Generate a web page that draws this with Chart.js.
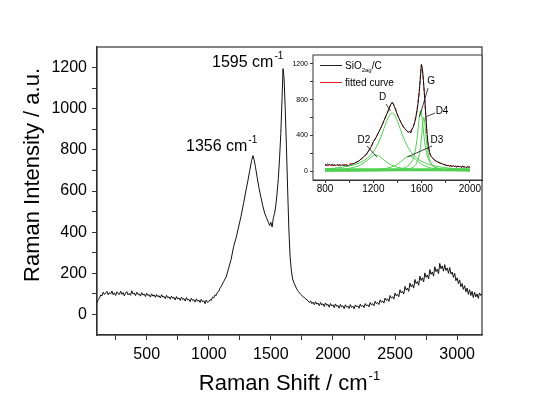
<!DOCTYPE html>
<html><head><meta charset="utf-8">
<script src="https://cdn.jsdelivr.net/npm/chart.js@4.4.1/dist/chart.umd.min.js"></script>
<style>
html,body{margin:0;padding:0;background:#fff;}
#wrap{position:relative;width:558px;height:396px;overflow:hidden;}
#main{position:absolute;left:0;top:0;}
#inset{position:absolute;left:280px;top:48px;}
</style></head><body>
<div id="wrap"><canvas id="main" width="558" height="396"></canvas><canvas id="inset" width="204" height="150"></canvas></div>
<script>
// ---- main spectrum (Raman shift, cm-1 / intensity, a.u.) ----
const shift = [100,110,120,130,140,150,160,170,180,190,200,210,220,230,240,250,260,270,280,290,300,310,320,330,340,350,360,370,380,390,400,410,420,430,440,450,460,470,480,490,500,510,520,530,540,550,560,570,580,590,600,610,620,630,640,650,660,670,680,690,700,710,720,730,740,750,760,770,780,790,800,810,820,830,840,850,860,870,880,890,900,910,920,930,940,950,960,970,980,990,1000,1010,1020,1030,1040,1050,1060,1070,1080,1090,1100,1120,1140,1160,1180,1200,1220,1240,1260,1280,1300,1315,1330,1345,1356,1365,1375,1390,1405,1420,1435,1450,1465,1480,1490,1500,1510,1520,1530,1540,1550,1560,1570,1580,1590,1598,1606,1615,1625,1635,1645,1655,1665,1675,1690,1705,1720,1740,1760,1780,1800,1810,1820,1830,1840,1850,1860,1870,1880,1890,1900,1910,1920,1930,1940,1950,1960,1970,1980,1990,2000,2010,2020,2030,2040,2050,2060,2070,2080,2090,2100,2110,2120,2130,2140,2150,2160,2170,2180,2190,2200,2210,2220,2230,2240,2250,2260,2270,2280,2290,2300,2310,2320,2330,2340,2350,2360,2370,2380,2390,2400,2410,2420,2430,2440,2450,2460,2470,2480,2490,2500,2510,2520,2530,2540,2550,2560,2570,2580,2590,2600,2610,2620,2630,2640,2650,2660,2670,2680,2690,2700,2710,2720,2730,2740,2750,2760,2770,2780,2790,2800,2810,2820,2830,2840,2850,2860,2870,2880,2890,2900,2910,2920,2930,2940,2950,2960,2970,2980,2990,3000,3010,3020,3030,3040,3050,3060,3070,3080,3090,3100,3110,3120,3130,3140,3150,3160,3170,3180,3190,3200];
const intensity = [55,72,80,95,90,108,97,104,112,95,106,99,114,96,105,92,110,101,97,113,98,106,90,104,111,95,102,93,115,99,104,91,108,97,100,89,106,94,99,87,103,92,96,84,100,89,95,83,97,86,91,80,96,84,88,77,93,81,86,74,89,78,83,70,87,75,80,68,84,72,77,65,82,70,74,62,79,67,72,60,76,64,70,58,74,61,67,52,70,58,62,72,68,84,80,95,92,108,112,128,136,160,182,225,268,330,372,425,478,540,605,650,700,748,772,752,720,665,612,570,528,492,470,448,432,448,425,470,492,530,590,660,760,880,1050,1195,1150,1010,820,610,410,280,212,172,148,128,112,98,86,76,66,58,66,52,60,47,62,50,55,42,58,46,52,38,56,44,49,35,53,41,47,33,51,39,44,30,49,37,42,28,47,35,41,29,48,34,40,27,46,36,42,30,50,38,44,33,53,41,47,37,58,46,52,42,64,52,58,48,71,59,66,55,80,68,76,63,92,79,86,74,104,90,98,86,120,104,112,99,136,118,128,112,152,134,145,128,170,150,160,142,186,165,178,158,202,180,192,172,218,195,206,186,232,208,220,198,248,222,236,210,242,214,226,200,228,196,206,180,200,164,178,150,168,135,150,122,140,110,128,98,120,92,112,82,108,85,100,78,104,92,100];

// ---- inset: fitted curve and components ----
const fitShift = [800,850,900,950,1000,1050,1100,1150,1200,1250,1300,1330,1355,1380,1400,1430,1460,1490,1510,1530,1550,1570,1585,1598,1610,1625,1640,1655,1670,1690,1720,1760,1800,1850,1900,1950,2000];
const fitValue = [62,62,65,70,78,95,135,205,320,450,600,700,765,710,630,540,475,440,450,500,600,770,980,1185,1080,820,500,290,190,145,110,85,68,58,52,48,45];

const dShift = [800,850,900,950,1000,1050,1100,1150,1200,1250,1300,1325,1355,1375,1400,1450,1500,1550,1600,1650,1700,1800,1900,2000];
const dValue = [25,29,36,45,57,75,102,145,218,340,520,605,650,629,557,372,237,157,109,79,60,37,25,18];
const d2Shift = [800,900,1000,1050,1100,1150,1200,1220,1250,1300,1350,1400,1500,1600,1800,2000];
const d2Value = [10,16,31,46,74,121,173,180,165,110,67,42,20,12,5,3];
const d3Shift = [800,1000,1100,1200,1300,1350,1400,1450,1500,1550,1600,1650,1700,1800,1900,2000];
const d3Value = [3,5,8,14,29,45,76,130,170,130,76,45,29,14,8,5];
const gShift = [800,1000,1200,1300,1400,1450,1500,1520,1540,1560,1570,1580,1592,1600,1610,1620,1640,1660,1700,1750,1800,1900,2000];
const gValue = [1,2,5,8,18,33,73,112,187,340,462,596,680,640,517,385,209,123,55,27,16,7,4];
const d4Shift = [800,1200,1350,1450,1500,1540,1560,1580,1590,1600,1610,1618,1630,1640,1660,1680,1700,1750,1800,2000];
const d4Value = [1,2,5,13,26,56,94,181,266,395,544,600,488,338,157,84,51,21,11,3];
const baseShift = [800,2000];
const baseValue = [15,15];

// ---- ticks and labels ----
const mainXTicks = [250,500,750,1000,1250,1500,1750,2000,2250,2500,2750,3000];
const mainXLabels = [500,1000,1500,2000,2500,3000];
const mainYTicks = [0,100,200,300,400,500,600,700,800,900,1000,1100,1200];
const mainYLabels = [0,200,400,600,800,1000,1200];
const insetXTicks = [800,1000,1200,1400,1600,1800,2000];
const insetXLabels = [800,1200,1600,2000];
const insetYTicks = [0,200,400,600,800,1000,1200];
const insetYLabels = [0,400,800,1200];
const peakPos = [1356,1598];
const peakVal = [772,1195];
const peakText = ['1356 cm','1595 cm'];
const componentNames = ['D','G','D4','D2','D3'];
const legendNames = ['SiO','fitted curve'];

const FONT = '"Liberation Sans", Arial, Helvetica, sans-serif';
const pts = (xs, ys) => xs.map((x, i) => ({x: x, y: ys[i]}));

function drawSup(ctx, base, sup, size, x, y, align) {
  ctx.font = size + 'px ' + FONT;
  const w1 = ctx.measureText(base).width;
  const ss = Math.round(size * 0.6);
  ctx.font = ss + 'px ' + FONT;
  const w2 = ctx.measureText(sup).width;
  const x0 = align === 'center' ? x - (w1 + w2 + 1) / 2 : x;
  ctx.textAlign = 'left'; ctx.textBaseline = 'alphabetic';
  ctx.font = size + 'px ' + FONT;
  ctx.fillText(base, x0, y);
  ctx.font = ss + 'px ' + FONT;
  ctx.fillText(sup, x0 + w1 + 1, y - size * 0.45);
}

const mainDeco = {
  id: 'mainDeco',
  afterDraw(chart) {
    const ctx = chart.ctx, a = chart.chartArea, xs = chart.scales.x, ys = chart.scales.y;
    ctx.save();
    ctx.strokeStyle = '#333'; ctx.lineWidth = 1.2;
    ctx.strokeRect(a.left, a.top, a.right - a.left, a.bottom - a.top);
    ctx.fillStyle = '#000';
    drawSup(ctx, 'Raman Shift / cm', '-1', 22, (a.left + a.right) / 2, 390, 'center');
    ctx.save();
    ctx.translate(38.5, 175); ctx.rotate(-Math.PI / 2);
    ctx.font = '22px ' + FONT; ctx.textAlign = 'center'; ctx.textBaseline = 'alphabetic';
    ctx.fillText('Raman Intensity / a.u.', 0, 0);
    ctx.restore();
    const offs = [[-67, -5], [-71, -2]];
    peakText.forEach((t, i) => {
      drawSup(ctx, t, '-1', 16, xs.getPixelForValue(peakPos[i]) + offs[i][0], ys.getPixelForValue(peakVal[i]) + offs[i][1], 'left');
    });
    ctx.restore();
  }
};

function tickSetter(list) { return (s) => { s.ticks = list.map(v => ({value: v})); }; }

new Chart(document.getElementById('main'), {
  type: 'line',
  data: { datasets: [{ data: pts(shift, intensity), borderColor: '#111', borderWidth: 1, pointRadius: 0, tension: 0 }] },
  options: {
    responsive: false, animation: false, parsing: false,
    layout: { padding: { left: 0, right: 76, top: 47, bottom: 0 } },
    plugins: { legend: { display: false }, tooltip: { enabled: false } },
    scales: {
      x: {
        type: 'linear', min: 100, max: 3200,
        afterBuildTicks: tickSetter(mainXTicks),
        afterFit: (s) => { s.height = 61; },
        grid: { drawOnChartArea: false, drawTicks: true, tickLength: 5, tickColor: '#333', tickWidth: 1 },
        border: { display: true, color: '#333', width: 1.2 },
        ticks: { color: '#000', font: { family: FONT, size: 16 }, padding: 5, maxRotation: 0, autoSkip: false,
          callback: (v) => mainXLabels.includes(v) ? String(v) : '' }
      },
      y: {
        type: 'linear', min: -100, max: 1300,
        afterBuildTicks: tickSetter(mainYTicks),
        afterFit: (s) => { s.width = 97; },
        grid: { drawOnChartArea: false, drawTicks: true, tickLength: 5, tickColor: '#333', tickWidth: 1 },
        border: { display: true, color: '#333', width: 1.2 },
        ticks: { color: '#000', font: { family: FONT, size: 16 }, padding: 5, autoSkip: false,
          callback: (v) => mainYLabels.includes(v) ? String(v) : '' }
      }
    }
  },
  plugins: [mainDeco]
});

const insetDeco = {
  id: 'insetDeco',
  beforeDatasetsDraw(chart) {
    const ctx = chart.ctx, a = chart.chartArea;
    ctx.save(); ctx.fillStyle = '#fff';
    ctx.fillRect(a.left, a.top, a.right - a.left, a.bottom - a.top);
    ctx.restore();
  },
  afterDraw(chart) {
    const ctx = chart.ctx, a = chart.chartArea, xs = chart.scales.x, ys = chart.scales.y;
    ctx.save();
    ctx.strokeStyle = '#333'; ctx.lineWidth = 1;
    ctx.strokeRect(a.left, a.top, a.right - a.left, a.bottom - a.top);
    // legend
    ctx.lineWidth = 1;
    ctx.strokeStyle = '#222';
    ctx.beginPath(); ctx.moveTo(40, 17.5); ctx.lineTo(62, 17.5); ctx.stroke();
    ctx.strokeStyle = '#e02020';
    ctx.beginPath(); ctx.moveTo(40, 34.5); ctx.lineTo(62, 34.5); ctx.stroke();
    ctx.fillStyle = '#000'; ctx.textAlign = 'left'; ctx.textBaseline = 'alphabetic';
    ctx.font = '10px ' + FONT;
    ctx.fillText(legendNames[0], 65, 21);
    let w = ctx.measureText(legendNames[0]).width;
    ctx.font = '6px ' + FONT;
    ctx.fillText('2ag', 65 + w, 24);
    const w2 = ctx.measureText('2ag').width;
    ctx.font = '10px ' + FONT;
    ctx.fillText('/C', 65 + w + w2, 21);
    ctx.fillText(legendNames[1], 65, 38);
    // component labels with leader lines
    const lab = [[1276, 824, 1305, 751, 1342, 673], [1678, 1001, 1653, 930, 1582, 606], [1769, 673, 1711, 650, 1632, 606],
                 [1122, 348, 1147, 281, 1230, 158], [1727, 348, 1686, 281, 1483, 158]];
    ctx.strokeStyle = '#111'; ctx.lineWidth = 0.8;
    ctx.textAlign = 'center'; ctx.textBaseline = 'middle';
    componentNames.forEach((n, i) => {
      const L = lab[i];
      ctx.fillText(n, xs.getPixelForValue(L[0]), ys.getPixelForValue(L[1]));
      ctx.beginPath();
      ctx.moveTo(xs.getPixelForValue(L[2]), ys.getPixelForValue(L[3]));
      ctx.lineTo(xs.getPixelForValue(L[4]), ys.getPixelForValue(L[5]));
      ctx.stroke();
    });
    ctx.restore();
  }
};

const inRange = shift.map((x, i) => ({x: x, y: intensity[i]})).filter(p => p.x >= 800 && p.x <= 2000);
const green = (xs, ys, w) => ({ data: pts(xs, ys), borderColor: '#4fd04f', borderWidth: w || 1, pointRadius: 0, tension: 0.4, cubicInterpolationMode: 'monotone' });

new Chart(document.getElementById('inset'), {
  type: 'line',
  data: { datasets: [
    green(baseShift, baseValue, 3),
    green(dShift, dValue), green(d2Shift, d2Value), green(d3Shift, d3Value), green(gShift, gValue), green(d4Shift, d4Value),
    { data: inRange, borderColor: '#111', borderWidth: 1, pointRadius: 0, tension: 0 },
    { data: pts(fitShift, fitValue), borderColor: '#e02020', borderWidth: 1, borderDash: [4, 2], pointRadius: 0, tension: 0.4, cubicInterpolationMode: 'monotone' }
  ] },
  options: {
    responsive: false, animation: false, parsing: false,
    layout: { padding: { left: 0, right: 2, top: 7, bottom: 0 } },
    plugins: { legend: { display: false }, tooltip: { enabled: false } },
    scales: {
      x: {
        type: 'linear', min: 700, max: 2100,
        afterBuildTicks: tickSetter(insetXTicks),
        afterFit: (s) => { s.height = 18; },
        grid: { drawOnChartArea: false, drawTicks: true, tickLength: 3, tickColor: '#333' },
        border: { display: true, color: '#333', width: 1 },
        ticks: { color: '#000', font: { family: FONT, size: 10 }, padding: 0, maxRotation: 0, autoSkip: false,
          callback: (v) => insetXLabels.includes(v) ? String(v) : '' }
      },
      y: {
        type: 'linear', min: -100, max: 1300,
        afterBuildTicks: tickSetter(insetYTicks),
        afterFit: (s) => { s.width = 33; },
        grid: { drawOnChartArea: false, drawTicks: true, tickLength: 3, tickColor: '#333' },
        border: { display: true, color: '#333', width: 1 },
        ticks: { color: '#000', font: { family: FONT, size: 7 }, padding: 2, autoSkip: false,
          callback: (v) => insetYLabels.includes(v) ? String(v) : '' }
      }
    }
  },
  plugins: [insetDeco]
});
</script>
</body></html>
